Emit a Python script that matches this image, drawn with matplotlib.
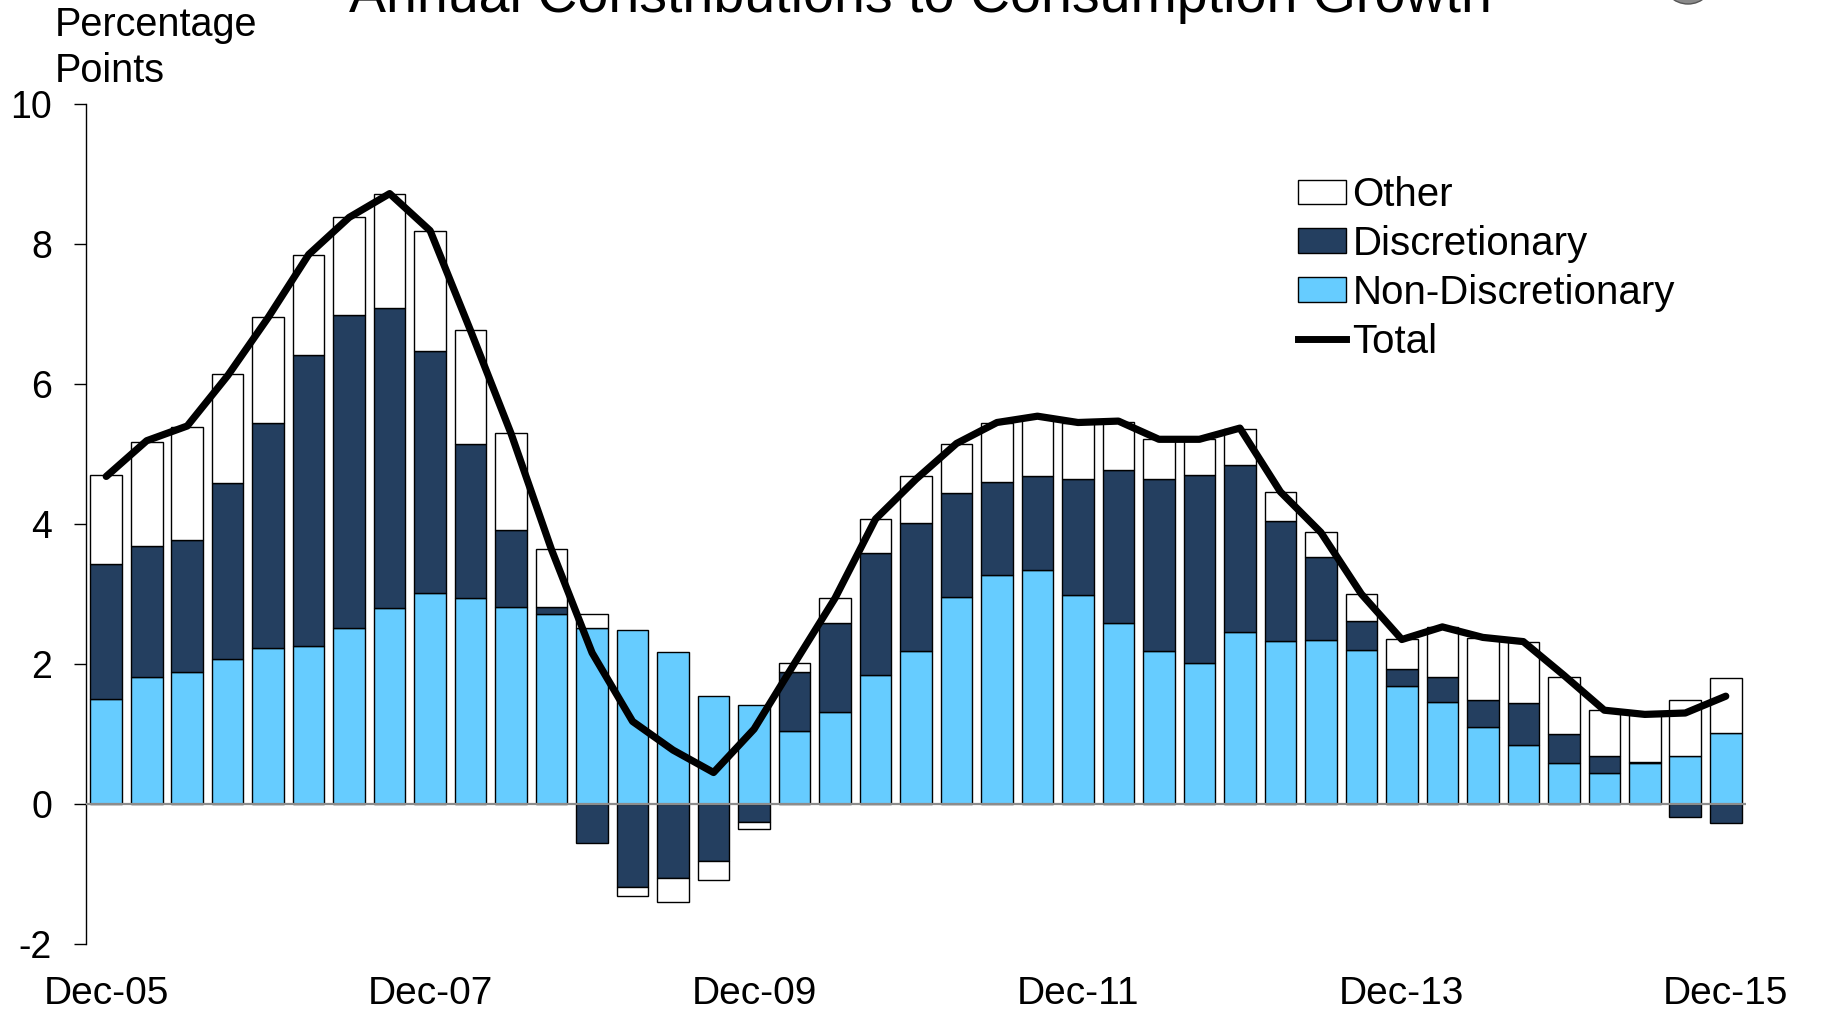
import matplotlib
matplotlib.use("Agg")
import matplotlib.pyplot as plt
import numpy as np
from matplotlib.patches import Patch, Ellipse
from matplotlib.lines import Line2D
from matplotlib.transforms import IdentityTransform

plt.rcParams['font.family'] = ['Liberation Sans', 'DejaVu Sans']

quarters = ["Dec-05", "Mar-06", "Jun-06", "Sep-06", "Dec-06", "Mar-07", "Jun-07", "Sep-07",
            "Dec-07", "Mar-08", "Jun-08", "Sep-08", "Dec-08", "Mar-09", "Jun-09", "Sep-09",
            "Dec-09", "Mar-10", "Jun-10", "Sep-10", "Dec-10", "Mar-11", "Jun-11", "Sep-11",
            "Dec-11", "Mar-12", "Jun-12", "Sep-12", "Dec-12", "Mar-13", "Jun-13", "Sep-13",
            "Dec-13", "Mar-14", "Jun-14", "Sep-14", "Dec-14", "Mar-15", "Jun-15", "Sep-15",
            "Dec-15"]

non_discretionary = [1.50, 1.82, 1.89, 2.07, 2.23, 2.26, 2.51, 2.80, 3.02, 2.95, 2.81, 2.72,
                     2.51, 2.49, 2.17, 1.55, 1.42, 1.04, 1.32, 1.84, 2.18, 2.96, 3.27, 3.34,
                     2.99, 2.58, 2.18, 2.01, 2.46, 2.33, 2.34, 2.20, 1.69, 1.46, 1.10, 0.85,
                     0.58, 0.45, 0.58, 0.69, 1.02]

discretionary = [1.93, 1.86, 1.88, 2.52, 3.21, 4.16, 4.47, 4.29, 3.45, 2.19, 1.11, 0.10,
                 -0.56, -1.18, -1.05, -0.81, -0.25, 0.84, 1.27, 1.74, 1.84, 1.48, 1.33, 1.35,
                 1.66, 2.19, 2.47, 2.69, 2.38, 1.71, 1.19, 0.42, 0.24, 0.35, 0.39, 0.60,
                 0.42, 0.24, 0.02, -0.18, -0.27]

other = [1.27, 1.49, 1.62, 1.55, 1.52, 1.43, 1.41, 1.62, 1.72, 1.63, 1.38, 0.82,
         0.21, -0.13, -0.35, -0.28, -0.10, 0.14, 0.36, 0.49, 0.66, 0.71, 0.84, 0.84,
         0.79, 0.69, 0.56, 0.51, 0.52, 0.42, 0.35, 0.38, 0.43, 0.72, 0.88, 0.86,
         0.82, 0.65, 0.70, 0.79, 0.78]

total = [4.68, 5.19, 5.40, 6.12, 6.95, 7.85, 8.38, 8.72, 8.19, 6.76, 5.29, 3.63,
         2.16, 1.18, 0.77, 0.45, 1.07, 2.01, 2.94, 4.07, 4.64, 5.15, 5.45, 5.54,
         5.45, 5.47, 5.21, 5.21, 5.37, 4.46, 3.88, 3.00, 2.35, 2.53, 2.38, 2.32,
         1.84, 1.34, 1.28, 1.30, 1.54]

tick_labels = ["Dec-05", "Dec-07", "Dec-09", "Dec-11", "Dec-13", "Dec-15"]

c_nd = "#66CCFF"
c_disc = "#243F60"
c_other = "#FFFFFF"

W, H = 1837, 1009
fig = plt.figure(figsize=(W / 100, H / 100), dpi=100)
ax = fig.add_axes([86 / W, 65 / H, (1746 - 86) / W, (944 - 104) / H])

x = np.arange(len(quarters))
width = 0.78
pos_base = np.zeros(len(x))
neg_base = np.zeros(len(x))
for vals, col in [(non_discretionary, c_nd), (discretionary, c_disc), (other, c_other)]:
    v = np.array(vals)
    bottoms = np.where(v >= 0, pos_base, neg_base)
    ax.bar(x, v, width=width, bottom=bottoms, color=col, edgecolor="black",
           linewidth=1.0, zorder=2)
    pos_base = pos_base + np.where(v >= 0, v, 0)
    neg_base = neg_base + np.where(v < 0, v, 0)

ax.axhline(0, color="#8c8c8c", linewidth=1.6, zorder=3)
ax.plot(x, total, color="black", linewidth=5.2, zorder=4,
        solid_joinstyle="round", solid_capstyle="round")

ax.set_xlim(-0.5, len(x) - 0.5)
ax.set_ylim(-2, 10)
ax.set_yticks(np.arange(-2, 11, 2))
ax.set_yticklabels([str(v) for v in range(-2, 11, 2)])
ax.set_xticks([quarters.index(t) for t in tick_labels])
ax.set_xticklabels(tick_labels)

for s in ["top", "right", "bottom"]:
    ax.spines[s].set_visible(False)
ax.spines["left"].set_linewidth(1.0)
ax.tick_params(axis="y", direction="out", length=8.5, width=1.0, pad=16, labelsize=27)
ax.tick_params(axis="x", length=0, pad=23, labelsize=28)

fig.text(920 / W, 1 - 12 / H, "Annual Constributions to Consumption Growth",
         ha="center", va="baseline", fontsize=40)
fig.text(55 / W, 1 - 25 / H, "Percentage", ha="left", va="center", fontsize=28.5)
fig.text(55 / W, 1 - 71 / H, "Points", ha="left", va="center", fontsize=28.5)

logo = Ellipse((1688, H + 22), 52, 52, transform=IdentityTransform(),
               facecolor="#8a8a8a", edgecolor="#555555", linewidth=1)
fig.add_artist(logo)

handles = [Patch(facecolor=c_other, edgecolor="black", linewidth=1.0),
           Patch(facecolor=c_disc, edgecolor="black", linewidth=1.0),
           Patch(facecolor=c_nd, edgecolor="black", linewidth=1.0),
           Line2D([0], [0], color="black", linewidth=5)]
labels = ["Other", "Discretionary", "Non-Discretionary", "Total"]
ax.legend(handles, labels, loc="upper left", bbox_to_anchor=(1298 / W, 1 - 176 / H),
          bbox_transform=fig.transFigure, frameon=False, fontsize=29,
          handlelength=1.2, handleheight=0.55, handletextpad=0.15,
          labelspacing=0.27, borderpad=0, borderaxespad=0)

fig.savefig("out.png", dpi=100)
